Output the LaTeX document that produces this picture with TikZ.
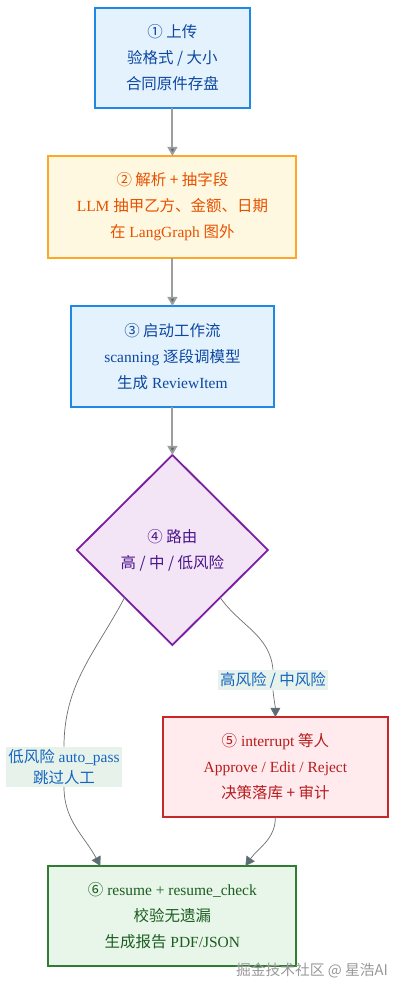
\documentclass[tikz,border=0pt]{standalone}
\usepackage{fontspec}
\setmainfont{Liberation Serif}
\newfontfamily\cjk{Noto Sans CJK SC}
\newcommand{\zh}[1]{{\cjk #1}}
\usepackage{tikz}
\usetikzlibrary{arrows.meta, positioning, shapes.geometric, calc}
\definecolor{stepblue}{HTML}{E3F2FD}
\definecolor{stepblueline}{HTML}{1E88E5}
\definecolor{stepbluetext}{HTML}{0D47A1}
\definecolor{parseorange}{HTML}{FFF8E1}
\definecolor{parseorangeline}{HTML}{FFA726}
\definecolor{parseorangetext}{HTML}{E65100}
\definecolor{routepurple}{HTML}{F3E5F5}
\definecolor{routepurpleline}{HTML}{7B1FA2}
\definecolor{routepurpletext}{HTML}{4A148C}
\definecolor{riskred}{HTML}{FFEBEE}
\definecolor{riskredline}{HTML}{C62828}
\definecolor{riskredtext}{HTML}{B71C1C}
\definecolor{donegreen}{HTML}{E8F5E9}
\definecolor{donegreenline}{HTML}{2E7D32}
\definecolor{donegreentext}{HTML}{1B5E20}
\definecolor{lblfill}{HTML}{E6F2EA}
\definecolor{lbltext}{HTML}{1565C0}
\definecolor{arrowgray}{HTML}{9E9E9E}
\definecolor{headslate}{HTML}{546E7A}
\definecolor{curvegray}{HTML}{6E6E6E}

\begin{document}
\begin{tikzpicture}[
  font=\fontsize{11}{18.5}\selectfont,
  node distance=1.2cm,
  box/.style={rectangle, line width=1.3pt, align=center, inner sep=3pt, outer sep=0pt},
  bluebox/.style={box, fill=stepblue, draw=stepblueline, text=stepbluetext},
  arrow/.style={-{Triangle[length=2.3mm, width=2.5mm, fill=headslate]}, line width=1.3pt, arrowgray},
  curve/.style={line width=0.5pt, curvegray},
  curvearrow/.style={curve, -{Triangle[length=2.3mm, width=2.5mm, fill=headslate]}, color=curvegray},
  edgelabel/.style={fill=lblfill, text=lbltext, inner sep=1.5pt, align=center,
                    font=\fontsize{11}{15}\selectfont},
]
  \useasboundingbox (0,0) rectangle (10.1,-24.875);

  \node[bluebox, minimum width=3.875cm, minimum height=2.5cm] (upload) at (4.31,-1.45)
    {\zh{① 上传}\\\zh{验格式 / 大小}\\\zh{合同原件存盘}};
  \node[box, fill=parseorange, draw=parseorangeline, text=parseorangetext,
        minimum width=6.2cm, minimum height=2.55cm, below=of upload] (parse)
    {\zh{② 解析 + 抽字段}\\LLM \zh{抽甲乙方、金额、日期}\\\zh{在} LangGraph \zh{图外}};
  \node[bluebox, minimum width=5.075cm, minimum height=2.525cm, below=of parse] (start)
    {\zh{③ 启动工作流}\\scanning \zh{逐段调模型}\\\zh{生成} ReviewItem};
  \node[diamond, aspect=1, line width=1.3pt, fill=routepurple, draw=routepurpleline,
        text=routepurpletext, align=center, inner sep=0pt, outer sep=0pt,
        minimum width=4.775cm, minimum height=4.75cm, below=1.2cm of start] (route)
    {\zh{④ 路由}\\\zh{高 / 中 / 低风险}};
  \node[box, fill=riskred, draw=riskredline, text=riskredtext,
        minimum width=5.625cm, minimum height=2.5cm,
        below=1.8cm of route, xshift=2.575cm] (review)
    {\zh{⑤} interrupt \zh{等人}\\Approve / Edit / Reject\\\zh{决策落库 + 审计}};
  \node[box, fill=donegreen, draw=donegreenline, text=donegreentext,
        minimum width=6.2cm, minimum height=2.5cm, below=5.525cm of route] (report)
    {\zh{⑥} resume + resume\_check\\\zh{校验无遗漏}\\\zh{生成报告} PDF/JSON};

  % edge labels
  \node[edgelabel] (highlbl) at (6.825,-17.0) {\zh{高风险 / 中风险}};
  \node[edgelabel] (lowlbl) at (1.6,-19.17) {\zh{低风险} auto\_pass\\\zh{跳过人工}};

  \draw[arrow] (upload) -- (parse);
  \draw[arrow] (parse) -- (start);
  \draw[arrow] (start) -- (route);

  \draw[curve] (route.south east) to[out=-55, in=95] (highlbl.north);
  \draw[curvearrow] (highlbl.south) to[out=-85, in=90] (review.north);
  \draw[curve] (route.south west) to[out=-118, in=90] (lowlbl.north);
  \draw[curvearrow] (lowlbl.south) to[out=-90, in=118] ($(report.north west)+(1.3,0)$);
  \draw[curvearrow] (review.south) to[out=-90, in=55] ($(report.north east)+(-1.275,0)$);

  \node[text=black!40, font=\fontsize{10.5}{12}\selectfont] (mark) at (7.8,-24.25)
    {\zh{掘金技术社区 @ 星浩AI}};
\end{tikzpicture}
\end{document}
